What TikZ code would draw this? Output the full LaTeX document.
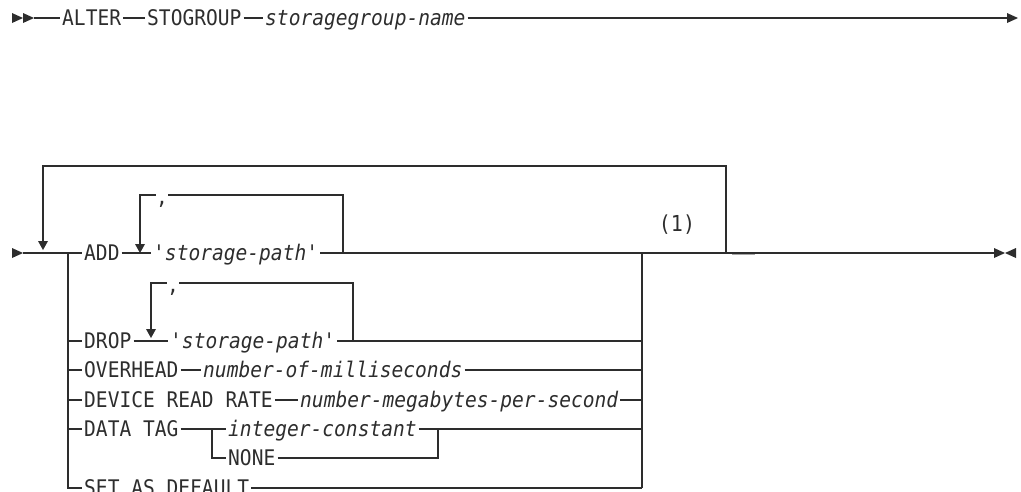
\documentclass[tikz,border=0pt]{standalone}
\usepackage{fontspec}
\setmonofont[FakeStretch=0.91]{DejaVu Sans Mono}
\usepackage{tikz}
\definecolor{railgray}{RGB}{45,45,45}

% railroad styles
\tikzset{
  kw/.style={font=\ttfamily\fontsize{21.5}{22}\selectfont, text=railgray,
    inner xsep=2pt, inner ysep=0pt, text height=15.6pt, text depth=0pt, anchor=west},
  var/.style={kw, font=\ttfamily\itshape\fontsize{21.5}{22}\selectfont},
  sep/.style={font=\ttfamily\fontsize{21.5}{22}\selectfont, text=railgray,
    inner sep=0pt, anchor=base},
  rail/.style={line width=1.4pt, draw=railgray},
}
% arrow heads drawn as small filled triangles, #1 is the tip
\newcommand\tipright[1]{\fill[railgray] (#1) -- ++(-11,-5) -- ++(0,10) -- cycle;}
\newcommand\tipleft[1]{\fill[railgray] (#1) -- ++(11,-5) -- ++(0,10) -- cycle;}
\newcommand\tipdown[1]{\fill[railgray] (#1) -- ++(-5,-9) -- ++(10,0) -- cycle;}

\begin{document}
\begin{tikzpicture}[x=1pt,y=-1pt]
    \useasboundingbox (0,0) rectangle (1021,491);
    \clip (0,0) rectangle (1021,491);

    % First line
    \coordinate (topstart) at (34,18);
    \coordinate (topend) at (1018,18);
    \node[kw] (alter) at (60,18) {ALTER};
    \node[kw] (stogroup) at (145,18) {STOGROUP};
    \node[var] (sgname) at (263,18) {storagegroup-name};
    \tipright{23,18}
    \tipright{topstart}
    \draw[rail] (topstart) -- (alter.west);
    \draw[rail] (alter.east) -- (stogroup.west);
    \draw[rail] (stogroup.east) -- (sgname.west);
    \draw[rail] (sgname.east) -- (1008,18);
    \tipright{topend}

    % Main line and repeat loop
    \coordinate (mainstart) at (23,253);
    \coordinate (loopL) at (43,253);
    \coordinate (loopR) at (726,253);
    \coordinate (looptop) at (43,166);
    \coordinate (choiceL) at (68,253);
    \coordinate (choiceR) at (642,253);
    \coordinate (mainend) at (1005,253);
    \tipright{mainstart}
    \draw[rail] (mainstart) -- (choiceL);
    \draw[rail] (loopR) -- (loopR |- looptop) -- (looptop) -- (43,245);
    \tipdown{43,250}
    \node[kw, font=\ttfamily\fontsize{22}{23}\selectfont, anchor=center] (note1) at (677,224) {(1)};

    % ADD
    \node[kw] (add) at (82,253) {ADD};
    \node[var] (addpath) at (151,253) {'storage-path'};
    \coordinate (addL) at (140,253);
    \coordinate (addR) at (343,253);
    \node[sep] (addcomma) at (162,204) {,};
    \draw[rail] (choiceL) -- (add.west);
    \draw[rail] (add.east) -- (addpath.west);
    \draw[rail] (addpath.east) -- (996,253);
    \draw[rail] (addR) -- (addR |- 0,195) -- (addcomma.east |- 0,195);
    \draw[rail] (addcomma.west |- 0,195) -- (addL |- 0,195) -- (140,245);
    \tipdown{addL}
    \draw[gray!70, line width=1.4pt] (732,254.5) -- (755,254.5);
    \tipright{mainend}
    \tipleft{mainend}

    % DROP
    \node[kw] (drop) at (82,341) {DROP};
    \node[var] (droppath) at (168,341) {'storage-path'};
    \coordinate (dropL) at (151,341);
    \coordinate (dropR) at (353,341);
    \node[sep] (dropcomma) at (173,292) {,};
    \draw[rail] (drop.east) -- (droppath.west);
    \draw[rail] (droppath.east) -- (choiceR |- droppath);
    \draw[rail] (dropR) -- (dropR |- 0,283) -- (dropcomma.east |- 0,283);
    \draw[rail] (dropcomma.west |- 0,283) -- (dropL |- 0,283) -- (151,333);
    \tipdown{151,338}

    % OVERHEAD
    \node[kw] (overhead) at (82,370) {OVERHEAD};
    \node[var] (msec) at (201,370) {number-of-milliseconds};
    \draw[rail] (overhead.east) -- (msec.west);
    \draw[rail] (msec.east) -- (choiceR |- msec);

    % DEVICE READ RATE
    \node[kw] (readrate) at (82,400) {DEVICE READ RATE};
    \node[var] (mbps) at (298,400) {number-megabytes-per-second};
    \draw[rail] (readrate.east) -- (mbps.west);
    \draw[rail] (mbps.east) -- (choiceR |- mbps);

    % DATA TAG
    \node[kw] (datatag) at (82,429) {DATA TAG};
    \node[var] (intconst) at (226,429) {integer-constant};
    \node[kw] (none) at (226,458) {NONE};
    \coordinate (tagL) at (212,429);
    \coordinate (tagR) at (438,429);
    \draw[rail] (datatag.east) -- (tagL) -- (intconst.west);
    \draw[rail] (tagL) |- (none.west);
    \draw[rail] (intconst.east) -- (choiceR |- intconst);
    \draw[rail] (none.east) -| (tagR);

    % SET AS DEFAULT
    \node[kw] (setdefault) at (82,488) {SET AS DEFAULT};
    \draw[rail] (setdefault.east) -- (choiceR |- setdefault);

    % Choice branches
    \draw[rail] (choiceL) -- (choiceL |- setdefault) -- (setdefault.west);
    \foreach \n in {drop,overhead,readrate,datatag}
        \draw[rail] (choiceL |- \n) -- (\n.west);
    \draw[rail] (choiceR) -- (choiceR |- setdefault);
\end{tikzpicture}
\end{document}
